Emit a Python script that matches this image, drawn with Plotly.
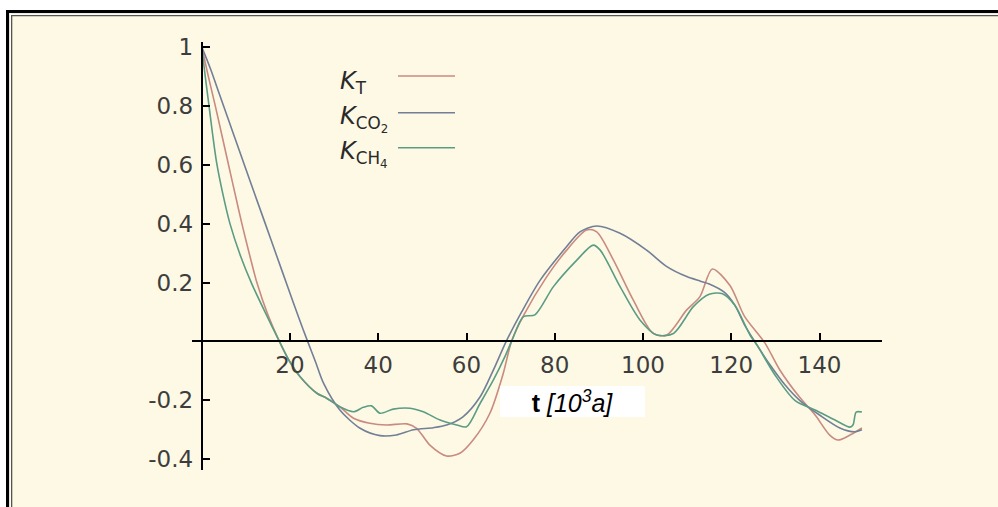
import plotly.graph_objects as go

# ---- data ----
t_T = [0, 1.5, 3, 4.5, 6, 7.5, 9.1, 11, 12.5, 15, 17.6, 20, 22.3, 26.1, 28.3, 31.3, 34.4, 38.1,
       41.9, 46.5, 48.7, 51.7, 55.5, 58.5, 61.5, 65.3, 68.3, 70.2, 73, 78.2, 82.7, 87.2, 89.5,
       93.3, 97.8, 102.3, 105.4, 109.9, 112.9, 115.7, 119.7, 123, 127.6, 131, 135.5, 139,
       142.3, 144.2, 146.9, 149.6]
K_T = [1, 0.9, 0.805, 0.705, 0.605, 0.505, 0.4, 0.285, 0.2, 0.09, 0, -0.07, -0.12, -0.176, -0.193,
       -0.222, -0.261, -0.278, -0.284, -0.28, -0.295, -0.352, -0.389, -0.38, -0.335, -0.244,
       -0.11, 0, 0.09, 0.22, 0.31, 0.378, 0.372, 0.276, 0.14, 0.027, 0.022, 0.107, 0.152,
       0.246, 0.19, 0.085, -0.005, -0.097, -0.19, -0.25, -0.318, -0.335, -0.318, -0.294]

t_CO2 = [0, 2, 4, 6, 8, 11.3, 14.4, 17, 19.5, 22, 24, 25.8, 27.6, 31.3, 35.9,
         40.4, 44.1, 48, 52.5, 55.5, 59.2, 63.1, 66, 69, 72.5, 76.7, 82.7, 85.7, 89.5, 94.8,
         100.8, 105.4, 109.9, 112.9, 115, 118.4, 120.8, 123, 125.8, 128.8, 132.2, 135.5, 140,
         144.6, 148, 149.6]
K_CO2 = [1, 0.925, 0.84, 0.755, 0.67, 0.53, 0.4, 0.29, 0.185, 0.08, 0, -0.07, -0.142,
         -0.233, -0.295, -0.32, -0.318, -0.3, -0.293, -0.284, -0.256, -0.188, -0.1, 0, 0.1,
         0.208, 0.322, 0.372, 0.392, 0.367, 0.31, 0.254, 0.22, 0.205, 0.195, 0.167, 0.123,
         0.056, -0.012, -0.08, -0.148, -0.2, -0.25, -0.294, -0.307, -0.3]

t_CH4 = [0, 0.8, 1.7, 2.5, 3.4, 4.8, 6.4, 8.8, 11.3, 14.5, 17.6, 20, 22.3, 26.1, 28.3, 31.3,
         34.4, 36.6, 38.5, 40.4, 43.4, 47.2, 50.2, 54, 57.8, 60, 63.1, 66.1, 68.7, 70.2, 72.9,
         75.5, 79.7, 85, 88.7, 90.3, 94.8, 99.3, 103.1, 106.9, 111.4, 115, 118, 120.8, 124.3,
         125.8, 129.9, 134.4, 139, 143.5, 146.9, 147.6, 148.3, 149.6]
K_CH4 = [1, 0.9, 0.795, 0.7, 0.605, 0.5, 0.4, 0.29, 0.197, 0.095, 0, -0.07, -0.12, -0.176,
         -0.193, -0.222, -0.239, -0.224, -0.219, -0.244, -0.23, -0.227, -0.239, -0.267, -0.284,
         -0.29, -0.21, -0.131, -0.052, 0, 0.084, 0.09, 0.186, 0.276, 0.327, 0.31, 0.186, 0.073,
         0.022, 0.027, 0.118, 0.16, 0.162, 0.123, 0.02, -0.012, -0.114, -0.2, -0.233, -0.267,
         -0.291, -0.283, -0.24, -0.24]

x_ticks = [20, 40, 60, 80, 100, 120, 140]
y_ticks = [-0.4, -0.2, 0.2, 0.4, 0.6, 0.8, 1]
y_tick_text = ["-0.4", "-0.2", "0.2", "0.4", "0.6", "0.8", "1"]

series_names = ["<i>K</i><sub>T</sub>", "<i>K</i><sub>CO<sub>2</sub></sub>",
                "<i>K</i><sub>CH<sub>4</sub></sub>"]
colors = ["#c98a80", "#717f97", "#5a9c84"]

# ---- layout geometry (pixels) ----
W, H = 998, 507
ML, MR, MT, MB = 192, 116, 42, 37
PW, PH = W - ML - MR, H - MT - MB


def px(x):
    return (x - ML) / PW


def py(y):
    return (H - MB - y) / PH


fig = go.Figure()
for xs, ys, c in zip([t_T, t_CO2, t_CH4], [K_T, K_CO2, K_CH4], colors):
    fig.add_trace(go.Scatter(x=xs, y=ys, mode="lines",
                             line=dict(color=c, width=1.6, shape="spline", smoothing=0.8),
                             showlegend=False, hoverinfo="skip"))

tickfont = dict(family="DejaVu Sans", size=23, color="#3d3d3d")

fig.update_layout(
    width=W, height=H,
    margin=dict(l=ML, r=MR, t=MT, b=MB, pad=0),
    paper_bgcolor="#fef9e5", plot_bgcolor="rgba(0,0,0,0)",
    xaxis=dict(range=[-2.2, 154.15], anchor="free", position=py(341.4),
               showline=True, linecolor="black", linewidth=2,
               ticks="inside", ticklen=7, tickwidth=1.5, tickcolor="black",
               tickvals=x_ticks, tickfont=tickfont, ticklabelstandoff=3,
               showgrid=False, zeroline=False),
    yaxis=dict(range=[-0.4367, 1.0167], anchor="free", position=px(201.7), side="left",
               showline=True, linecolor="black", linewidth=2,
               ticks="inside", ticklen=7, tickwidth=1.5, tickcolor="black",
               tickvals=y_ticks, ticktext=y_tick_text, tickfont=tickfont, ticklabelstandoff=3,
               showgrid=False, zeroline=False),
)

shapes = []
# frame: white outside, black outer band, thin grey inner line
shapes.append(dict(type="rect", xref="paper", yref="paper", x0=px(0), x1=px(6), y0=py(H), y1=py(0),
                   fillcolor="white", line_width=0, layer="below"))
shapes.append(dict(type="rect", xref="paper", yref="paper", x0=px(0), x1=px(W), y0=py(10), y1=py(0),
                   fillcolor="white", line_width=0, layer="below"))
shapes.append(dict(type="rect", xref="paper", yref="paper", x0=px(6), x1=px(9.3), y0=py(H), y1=py(10),
                   fillcolor="black", line_width=0, layer="below"))
shapes.append(dict(type="rect", xref="paper", yref="paper", x0=px(6), x1=px(W), y0=py(13.3), y1=py(10),
                   fillcolor="black", line_width=0, layer="below"))
shapes.append(dict(type="rect", xref="paper", yref="paper", x0=px(9.3), x1=px(11), y0=py(H), y1=py(13.3),
                   fillcolor="#fdfbf2", line_width=0, layer="below"))
shapes.append(dict(type="rect", xref="paper", yref="paper", x0=px(9.3), x1=px(W), y0=py(15), y1=py(13.3),
                   fillcolor="#fdfbf2", line_width=0, layer="below"))
shapes.append(dict(type="rect", xref="paper", yref="paper", x0=px(11), x1=px(12.3), y0=py(H), y1=py(15),
                   fillcolor="#555555", line_width=0, layer="below"))
shapes.append(dict(type="rect", xref="paper", yref="paper", x0=px(11), x1=px(W), y0=py(16.3), y1=py(15),
                   fillcolor="#555555", line_width=0, layer="below"))

# legend samples (text left, line right)
leg_y = [76, 112.7, 147.7]
for yy, c in zip(leg_y, colors):
    shapes.append(dict(type="line", xref="paper", yref="paper", x0=px(398), x1=px(455),
                       y0=py(yy), y1=py(yy), line=dict(color=c, width=1.6)))
fig.update_layout(shapes=shapes)

for yy, name in zip(leg_y, series_names):
    fig.add_annotation(xref="paper", yref="paper", x=px(338), y=py(yy + 6), xanchor="left",
                       yanchor="middle", text=name, showarrow=False,
                       font=dict(family="DejaVu Sans", size=24, color="#2a2a2a"))

# x-axis title in a white box
fig.add_annotation(xref="paper", yref="paper", x=px(572.5), y=py(401.2), xanchor="center",
                   yanchor="middle", text="<b>t</b> <i>[10<sup>3</sup>a]</i>", showarrow=False,
                   width=145, height=31, bgcolor="white", borderpad=0, borderwidth=0,
                   font=dict(family="Liberation Sans", size=25, color="black"))

fig.write_html("out.html")
